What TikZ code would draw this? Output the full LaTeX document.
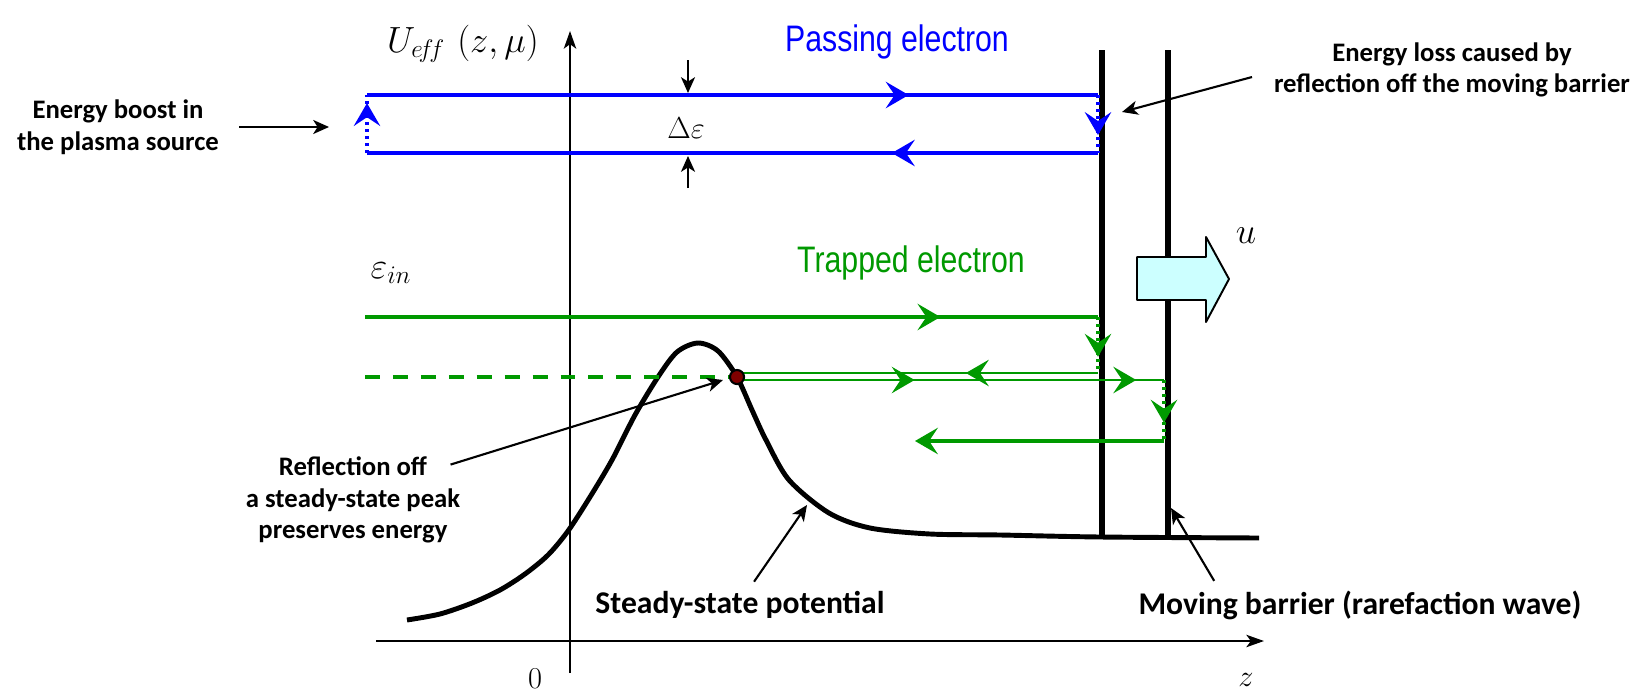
\documentclass[tikz,border=0pt]{standalone}
\usepackage{amsmath}
\usepackage{fontspec}
\setmainfont{Carlito}
\newfontfamily\narrowsans[FakeStretch=0.82]{Liberation Sans}
\usetikzlibrary{arrows.meta, decorations.markings}

\definecolor{elblue}{RGB}{0,0,255}
\definecolor{elgreen}{RGB}{0,153,0}
\definecolor{peakred}{RGB}{128,0,0}
\definecolor{wavecyan}{RGB}{204,255,255}

\tikzset{
  note/.style={line width=1.2pt, -{Stealth[length=9pt,width=8pt,inset=2.5pt]}},
  axis/.style={line width=1.3pt, -{Stealth[length=10pt,width=7pt,inset=2.5pt]}},
  orbit/.style={line width=2pt},
  hop/.style={line width=1.8pt, dash pattern=on 1.8pt off 2.2pt},
  midtip/.style={postaction={decorate}, decoration={markings,
      mark=at position #1 with {\arrow{Stealth[length=13pt,width=15pt,inset=5pt]}}}},
  twotips/.style 2 args={postaction={decorate}, decoration={markings,
      mark=at position #1 with {\arrow{Stealth[length=13pt,width=15pt,inset=5pt]}},
      mark=at position #2 with {\arrow{Stealth[length=13pt,width=15pt,inset=5pt]}}}},
  endtip/.style={-{Stealth[length=13pt,width=15pt,inset=5pt]}},
  small/.style={font=\bfseries\fontsize{15.2}{18}\selectfont, align=center},
  large/.style={font=\bfseries\fontsize{18}{22}\selectfont, align=center},
  elabel/.style={font=\narrowsans\fontsize{21}{24}\selectfont},
}

\begin{document}
\begin{tikzpicture}[x=0.02cm, y=-0.02cm, line join=round]
  \useasboundingbox (0,0) rectangle (1646,693);

  % axes
  \coordinate (origin) at (570,641);
  \draw[axis] (570,673) -- (570,31);
  \draw[axis] (376,641) -- (1264,641);
  \node[font=\fontsize{22}{26}\selectfont, inner sep=0pt] (ueff) at (463,44) {$U_{e\!f\!f}\,\left(z,\mu\right)$};
  \node[font=\fontsize{17}{20}\selectfont] (zero) at (535,679) {$0$};
  \node[font=\fontsize{19}{22}\selectfont] (zlab) at (1246,680) {$z$};

  % steady-state potential and the moving barrier
  \draw[line width=2.8pt] plot[smooth, tension=0.5] coordinates {
    (407,620) (440,614) (472,603) (500,590) (525,574) (548,555) (568,531)
    (590,497) (612,460) (635,415) (658,377) (677,352) (698,343) (718,351)
    (737,377) (752,410) (766,440) (789,480) (829,513) (870,528) (930,534)
    (1000,535) (1100,537) (1259,538)};
  \draw[line width=3.4pt] (1102,50) -- (1102,538);
  \draw[line width=3.4pt] (1168,50) -- (1168,538);
  \draw[fill=wavecyan, line width=1.1pt] (1137,257) -- (1206,257) -- (1206,237)
    -- (1229,279) -- (1206,322) -- (1206,300) -- (1137,300) -- cycle;
  \node[font=\fontsize{22}{24}\selectfont] (ulab) at (1246,236) {$u$};

  % passing electron
  \coordinate (pa) at (367,95);  \coordinate (pb) at (1098,95);
  \coordinate (pc) at (1098,153); \coordinate (pd) at (367,153);
  \draw[orbit, elblue, midtip=0.741] (pa) -- (pb);
  \draw[hop, elblue, midtip=0.69] (pb) -- (pc);
  \draw[orbit, elblue, midtip=0.282] (pc) -- (pd);
  \draw[hop, elblue, midtip=0.86] (pd) -- (pa);
  \node[elabel, text=elblue] (pass) at (897,42) {Passing electron};
  \node[font=\fontsize{18}{20}\selectfont] (de) at (686,128) {$\Delta\varepsilon$};
  \coordinate (deA) at (688,60);  \coordinate (deB) at (688,188);
  \draw[note] (deA) -- (688,93);
  \draw[note] (deB) -- (688,156);

  % trapped electron
  \coordinate (ta) at (365,317); \coordinate (tb) at (1098,317);
  \coordinate (tc) at (1098,373); \coordinate (td) at (1164,380);
  \coordinate (te) at (1164,441); \coordinate (tf) at (915,441);
  \draw[orbit, elgreen, midtip=0.785] (ta) -- (tb);
  \draw[hop, elgreen, midtip=0.71] (tb) -- (tc);
  \draw[line width=1.7pt, elgreen, midtip=0.366] (tc) -- (737,373);
  \draw[line width=1.7pt, elgreen, twotips={0.416}{0.935}] (737,380) -- (td);
  \draw[hop, elgreen, midtip=0.70] (td) -- (te);
  \draw[orbit, elgreen, endtip] (te) -- (tf);
  \draw[orbit, elgreen, dash pattern=on 8.5pt off 7.4pt] (365,377) -- (730,377);
  \node[circle, fill=peakred, draw=black, line width=1.2pt, inner sep=0pt,
    minimum size=8pt] (peak) at (737,377) {};
  \node[elabel, text=elgreen] (trap) at (911,263) {Trapped electron};
  \node[font=\fontsize{22}{24}\selectfont] (ein) at (391,273) {$\varepsilon_{in}$};

  % annotations
  \node[small] (boost) at (118,127) {Energy boost in\\the plasma source};
  \node[small] (loss) at (1452,70) {Energy loss caused by\\reflection off the moving barrier};
  \node[small] (refl) at (353,500) {Reflection off\\a steady-state peak\\preserves energy};
  \node[large] (steady) at (740,605) {Steady-state potential};
  \node[large] (moving) at (1360,605) {Moving barrier (rarefaction wave)};
  \coordinate (boostTip) at (329,127);
  \coordinate (lossTip) at (1122,112);
  \coordinate (reflTip) at (723,380);
  \coordinate (steadyTip) at (807,505);
  \coordinate (movingTip) at (1171,508);
  \draw[note] ([xshift=8pt]boost.east) -- (boostTip);
  \draw[note] ([xshift=-9pt,yshift=-4pt]loss.west) -- (lossTip);
  \draw[note] ([xshift=-9pt,yshift=-8pt]refl.north east) -- (reflTip);
  \draw[note] ([xshift=8pt,yshift=2pt]steady.north) -- (steadyTip);
  \draw[note] ([xshift=-83pt,yshift=2pt]moving.north) -- (movingTip);
\end{tikzpicture}
\end{document}
